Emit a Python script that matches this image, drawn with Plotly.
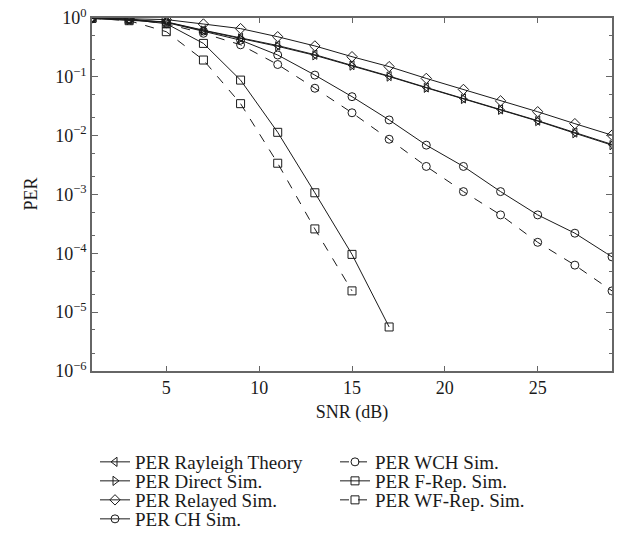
import plotly.graph_objects as go

snr = [1, 3, 5, 7, 9, 11, 13, 15, 17, 19, 21, 23, 25, 27, 29]
rayleigh = [0.99, 0.93, 0.86, 0.62, 0.46, 0.34, 0.238, 0.158, 0.103, 0.066, 0.043, 0.028, 0.018, 0.0113, 0.0071]
direct = [0.98, 0.92, 0.85, 0.61, 0.45, 0.33, 0.232, 0.155, 0.101, 0.065, 0.042, 0.0275, 0.0177, 0.011, 0.0069]
relayed = [1.0, 0.98, 0.94, 0.79, 0.66, 0.48, 0.335, 0.22, 0.149, 0.094, 0.061, 0.039, 0.0255, 0.016, 0.0102]
ch = [1.0, 0.96, 0.84, 0.6, 0.42, 0.235, 0.107, 0.046, 0.0185, 0.0069, 0.003, 0.00112, 0.00045, 0.00022, 8.7e-5]
wch = [1.0, 0.95, 0.8, 0.55, 0.35, 0.162, 0.064, 0.0245, 0.0087, 0.003, 0.00112, 0.00045, 0.000154, 6.3e-5, 2.3e-5]
snr_frep = [1, 3, 5, 7, 9, 11, 13, 15, 17]
frep = [0.99, 0.95, 0.8, 0.37, 0.088, 0.0114, 0.00107, 9.6e-5, 5.6e-6]
snr_wfrep = [1, 3, 5, 7, 9, 11, 13, 15]
wfrep = [0.99, 0.9, 0.585, 0.193, 0.035, 0.0034, 0.00026, 2.3e-5]

y_tickvals = [1, 1e-1, 1e-2, 1e-3, 1e-4, 1e-5, 1e-6]
y_ticktext = ["10<sup>0</sup>", "10<sup>−1</sup>", "10<sup>−2</sup>", "10<sup>−3</sup>",
              "10<sup>−4</sup>", "10<sup>−5</sup>", "10<sup>−6</sup>"]
x_tickvals = [5, 10, 15, 20, 25]

series = [
    ("PER Rayleigh Theory", snr, rayleigh, "triangle-left-open", "solid"),
    ("PER Direct Sim.", snr, direct, "triangle-right-open", "solid"),
    ("PER Relayed Sim.", snr, relayed, "diamond-open", "solid"),
    ("PER CH Sim.", snr, ch, "circle-open", "solid"),
    ("PER WCH Sim.", snr, wch, "circle-open", "dash"),
    ("PER F-Rep. Sim.", snr_frep, frep, "square-open", "solid"),
    ("PER WF-Rep. Sim.", snr_wfrep, wfrep, "square-open", "dash"),
]

font_family = "Liberation Serif, Times New Roman, serif"
ink = "#1a1a1a"

# page body margin is removed by a post script, so the figure fills the window
W, H = 623, 544
L, R, T, B = 92, 11, 18, 173
plot_w = W - L - R
col_text_x = [135, 375]
row_y = [462, 481, 500, 519]
legend_slots = [(0, 0), (0, 1), (0, 2), (0, 3), (1, 0), (1, 1), (1, 2)]

fig = go.Figure()
legend_layouts = {}
for i, (name, xs, ys, sym, dash) in enumerate(series):
    lname = f"legend{i + 2}"
    fig.add_trace(go.Scatter(
        x=xs, y=ys, name=name, mode="lines+markers",
        line=dict(color=ink, width=1, dash=dash),
        marker=dict(symbol=sym, size=8, color=ink, line=dict(width=1, color=ink)),
        legend=lname,
    ))
    c, r = legend_slots[i]
    legend_layouts[lname] = dict(
        xref="container", yref="container",
        x=(col_text_x[c] - 40) / W, y=1 - row_y[r] / H,
        xanchor="left", yanchor="middle", bgcolor="rgba(0,0,0,0)",
        font=dict(family=font_family, size=19, color=ink), itemwidth=30,
    )

axis_common = dict(
    showline=True, linecolor="#666666", linewidth=1.5, mirror="ticks",
    ticks="inside", tickcolor="#666666", showgrid=False, zeroline=False,
    tickfont=dict(family=font_family, size=18, color=ink),
)

fig.update_layout(
    width=W, height=H,
    margin=dict(l=L, r=R, t=T, b=B, autoexpand=False),
    paper_bgcolor="white", plot_bgcolor="white",
    font=dict(family=font_family, size=18, color=ink),
    xaxis=dict(range=[1, 29], tickvals=x_tickvals, ticklen=5, automargin=True,
               title=dict(text="SNR (dB)", font=dict(family=font_family, size=18), standoff=8),
               **axis_common),
    yaxis=dict(type="log", range=[-6, 0], tickvals=y_tickvals, ticktext=y_ticktext, ticklen=6,
               automargin=False, ticklabeloverflow="allow",
               minor=dict(ticks="inside", ticklen=3, tickcolor="#666666"),
               **axis_common),
    annotations=[dict(text="PER", textangle=-90, xref="paper", yref="paper",
                      x=(30 - L) / plot_w, y=0.5, xanchor="center", yanchor="middle",
                      showarrow=False, font=dict(family=font_family, size=18, color=ink))],
    **legend_layouts,
)

fig.write_html("out.html",
               config={"displayModeBar": False},
               post_script="document.body.style.margin='0';document.body.style.overflow='hidden';")
